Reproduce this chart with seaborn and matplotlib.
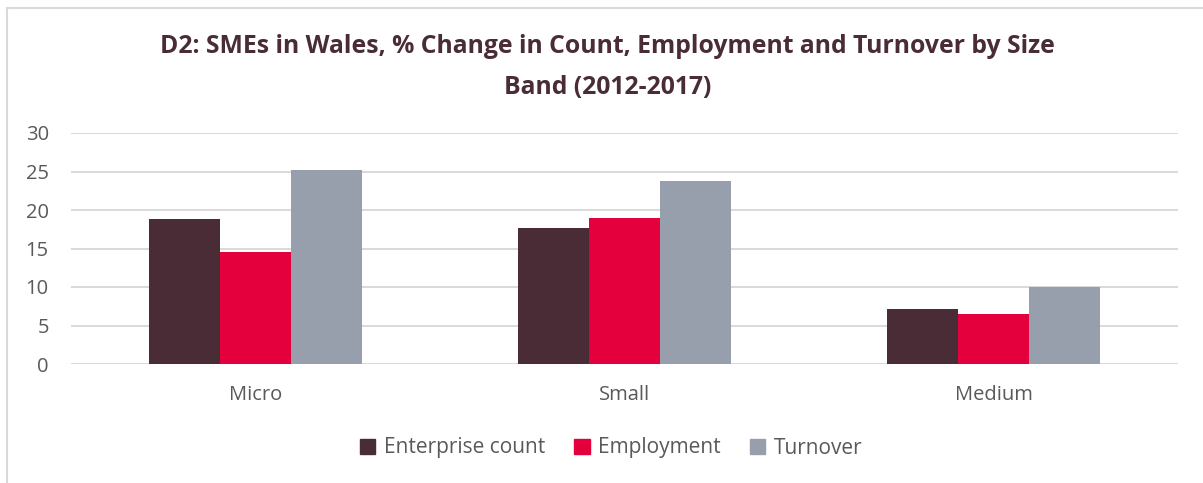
import matplotlib
matplotlib.use("Agg")
import matplotlib.pyplot as plt
from matplotlib.lines import Line2D
import pandas as pd
import seaborn as sns

# Size bands and % change 2012-2017 for each measure
size_bands = ["Micro", "Small", "Medium"]
series_names = ["Enterprise count", "Employment", "Turnover"]
enterprise_count = [18.8, 17.6, 7.1]
employment = [14.6, 19.0, 6.5]
turnover = [25.2, 23.8, 10.0]
y_ticks = [0, 5, 10, 15, 20, 25, 30]

title = "D2: SMEs in Wales, % Change in Count, Employment and Turnover by Size\nBand (2012-2017)"

colors = ["#4A2C37", "#E4003D", "#989FAC"]
text_grey = "#595959"
grid_grey = "#D9D9D9"

df = pd.DataFrame({
    "band": size_bands * 3,
    "measure": [series_names[0]] * 3 + [series_names[1]] * 3 + [series_names[2]] * 3,
    "value": enterprise_count + employment + turnover,
})

sns.set_theme(style="white")
plt.rcParams["font.family"] = ["Open Sans", "DejaVu Sans"]

fig = plt.figure(figsize=(12.03, 4.83), dpi=100)
ax = fig.add_axes([71 / 1203, 1 - 364 / 483, (1178 - 71) / 1203, (364 - 133) / 483])

sns.barplot(data=df, x="band", y="value", hue="measure", order=size_bands,
            hue_order=series_names, palette=colors, width=0.577,
            saturation=1, ax=ax, legend=False, linewidth=0)

ax.set_ylim(0, 30)
ax.set_xlim(-0.5, 2.5)
ax.set_yticks(y_ticks)
ax.set_yticklabels([str(t) for t in y_ticks])
ax.yaxis.grid(True, color=grid_grey, linewidth=1.4)
ax.set_axisbelow(True)
for s in ax.spines.values():
    s.set_visible(False)
ax.tick_params(axis="both", length=0, labelsize=14.5, labelcolor=text_grey)
ax.tick_params(axis="x", pad=15)
ax.tick_params(axis="y", pad=16)
ax.set_xlabel("")
ax.set_ylabel("")

fig.text(0.505, 1 - 67 / 483, title, ha="center", va="center", fontsize=17.8,
         fontweight="bold", color="#4A2C37", linespacing=1.8)

handles = [plt.Rectangle((0, 0), 1, 1, color=c) for c in colors]
fig.legend(handles, series_names, loc="center", bbox_to_anchor=(611 / 1203, 1 - 448 / 483),
           ncol=3, frameon=False, fontsize=15, labelcolor=text_grey,
           handlelength=0.75, handleheight=0.75, handletextpad=0.4, columnspacing=1.4)

# Chart frame: top and left edges
fig.add_artist(Line2D([6.5 / 1203, 1], [1 - 8 / 483, 1 - 8 / 483], color=grid_grey, lw=1.5))
fig.add_artist(Line2D([6.5 / 1203, 6.5 / 1203], [0, 1 - 8 / 483], color=grid_grey, lw=1.5))

fig.savefig("out.png", dpi=100, facecolor="white")
